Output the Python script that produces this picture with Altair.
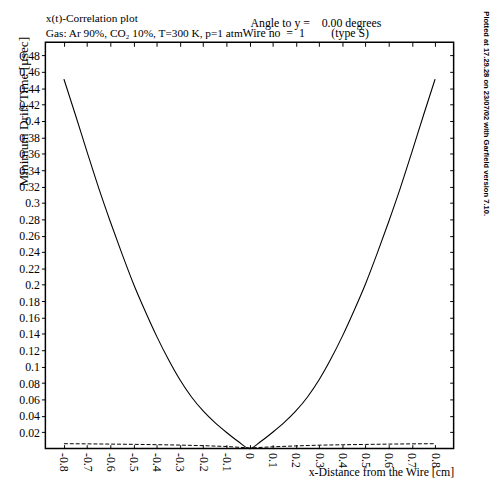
import altair as alt
import pandas as pd

# Solid curve: minimum drift time vs distance from the wire
x_curve = [-0.80, -0.75, -0.70, -0.65, -0.60, -0.55, -0.50, -0.45, -0.40, -0.35, -0.30, -0.25,
           -0.20, -0.15, -0.10, -0.05, 0.00, 0.05, 0.10, 0.15, 0.20, 0.25, 0.30, 0.35,
           0.40, 0.45, 0.50, 0.55, 0.60, 0.65, 0.70, 0.75, 0.80]
t_curve = [0.451, 0.407, 0.362, 0.318, 0.277, 0.238, 0.201, 0.168, 0.137, 0.109, 0.084, 0.063,
           0.046, 0.032, 0.020, 0.009, 0.000, 0.009, 0.020, 0.032, 0.046, 0.063, 0.084, 0.109,
           0.137, 0.168, 0.201, 0.238, 0.277, 0.318, 0.362, 0.407, 0.451]

# Dashed curve near the bottom
x_dash = [-0.8, -0.7, -0.6, -0.5, -0.4, -0.3, -0.2, -0.1, 0.0, 0.1, 0.2, 0.3, 0.4, 0.5, 0.6, 0.7, 0.8]
t_dash = [0.0060, 0.0058, 0.0055, 0.0052, 0.0048, 0.0043, 0.0036, 0.0026, 0.0008, 0.0022, 0.0033,
          0.0042, 0.0047, 0.0051, 0.0055, 0.0058, 0.0060]

x_ticks = [-0.8, -0.7, -0.6, -0.5, -0.4, -0.3, -0.2, -0.1, 0, 0.1, 0.2, 0.3, 0.4, 0.5, 0.6, 0.7, 0.8]
y_ticks = [0.02, 0.04, 0.06, 0.08, 0.1, 0.12, 0.14, 0.16, 0.18, 0.2, 0.22, 0.24, 0.26, 0.28, 0.3,
           0.32, 0.34, 0.36, 0.38, 0.4, 0.42, 0.44, 0.46, 0.48]

title_left = ["x(t)-Correlation plot", "Gas: Ar 90%, CO\u2082 10%, T=300 K, p=1 atm"]
title_angle = "Angle to y =\u00a0\u00a0\u00a0\u00a00.00 degrees"
title_wire = "Wire no\u00a0\u00a0=\u00a0\u00a01\u00a0\u00a0\u00a0\u00a0\u00a0\u00a0\u00a0\u00a0\u00a0(type S)"
stamp = "Plotted at 17.29.28 on 23/07/02 with Garfield version 7.10."

curve = pd.DataFrame({"x": x_curve, "t": t_curve})
dash = pd.DataFrame({"x": x_dash, "t": t_dash})

W, H = 415, 413
xscale = alt.Scale(domain=[-0.88, 0.88], nice=False, zero=False)
yscale = alt.Scale(domain=[0, 0.496], nice=False, zero=False)

label_expr = "datum.value < 0 ? '-' + format(-datum.value, '~g') : format(datum.value, '~g')"

l1 = alt.Chart(curve).mark_line(color="black", strokeWidth=1.1, interpolate="monotone").encode(
    x=alt.X("x:Q", scale=xscale, axis=alt.Axis(
        orient="bottom", values=x_ticks, ticks=False, tickSize=0, domain=False, grid=False,
        labelAngle=90, labelPadding=4, labelExpr=label_expr,
        title="x-Distance from the Wire [cm]", titleX=W, titleY=27,
        titleAlign="right", titleBaseline="alphabetic")),
    y=alt.Y("t:Q", scale=yscale, axis=alt.Axis(
        orient="left", values=y_ticks, format="~g", tickSize=4, domain=False, grid=False,
        labelPadding=2, title="Minimum Drift Time [\u00b5sec]", titleFontSize=13.5,
        titleX=-22, titleY=-6,
        titleAngle=270, titleAlign="right", titleBaseline="middle")),
)

l2 = alt.Chart(dash).mark_line(color="black", strokeWidth=1, strokeDash=[4, 2]).encode(
    x=alt.X("x:Q", scale=xscale, axis=alt.Axis(
        orient="bottom", offset=-4, values=x_ticks, tickSize=4, labels=False, domain=False,
        grid=False, title=title_wire, titleX=200, titleY=-415, titleAlign="left",
        titleBaseline="alphabetic")),
    y=alt.Y("t:Q", scale=yscale, axis=alt.Axis(
        orient="right", offset=-4, values=y_ticks, tickSize=4, labels=False, domain=False,
        grid=False, title=stamp, titleFont="Liberation Sans", titleFontWeight="bold",
        titleFontSize=7.7, titleAngle=90, titleX=36.5, titleY=-32, titleAlign="left",
        titleBaseline="middle")),
)

l3 = alt.Chart(curve).mark_line(opacity=0).encode(
    x=alt.X("x:Q", scale=xscale, axis=alt.Axis(
        orient="top", offset=-4, values=x_ticks, tickSize=4, labels=False, domain=False,
        grid=False, title=title_left, titleFontSize=11.5, titleX=0, titleY=-25,
        titleAlign="left", titleBaseline="alphabetic", titleLineHeight=15)),
    y=alt.Y("t:Q", scale=yscale, axis=alt.Axis(
        orient="left", ticks=False, labels=False, domain=False, grid=False,
        title=title_angle, titleAngle=0, titleX=208, titleY=-16.3, titleAlign="left",
        titleBaseline="alphabetic")),
)

chart = alt.layer(l1, l2, l3).resolve_axis(x="independent", y="independent").properties(
    width=W, height=H,
    autosize=alt.AutoSizeParams(type="none"),
    padding={"left": 38, "top": 31, "right": 39, "bottom": 27},
).configure_view(stroke="black", strokeWidth=1.5).configure_axis(
    labelFont="Liberation Serif", labelFontSize=12, labelColor="black",
    tickColor="black", tickWidth=1,
    titleFont="Liberation Serif", titleFontSize=12, titleFontWeight="normal", titleColor="black",
)

chart.save("out.html", embed_options={"renderer": "svg", "actions": False})
